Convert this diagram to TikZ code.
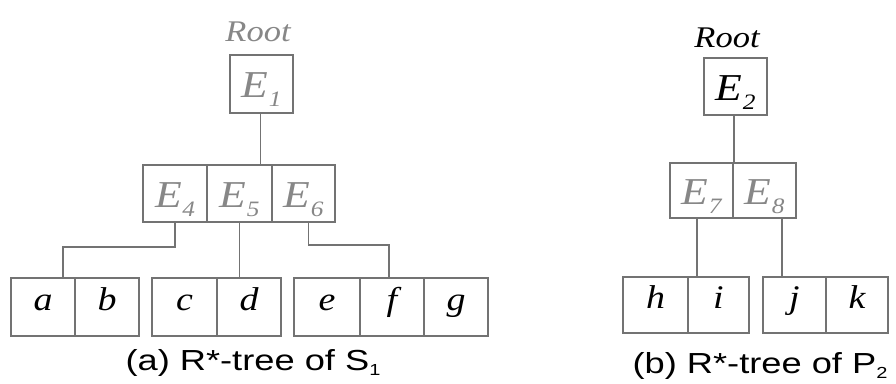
\documentclass[tikz,border=0pt]{standalone}
\usepackage{fontspec}
\usepackage{graphicx}
\setmainfont{Liberation Serif}
\setsansfont{Liberation Sans}
\usetikzlibrary{calc}
\definecolor{boxgray}{RGB}{115,115,115}
\definecolor{txtgray}{RGB}{135,135,135}
\newcommand\hstr[2][1.15]{\scalebox{#1}[1]{#2}}
\newcommand\Esub[1]{\hstr{\textit{E}\hspace{0.5pt}\raisebox{-9pt}{\fontsize{22}{22}\selectfont\itshape #1}}}
\begin{document}
\begin{tikzpicture}[x=1pt,y=-1pt,
  cell/.style={draw=boxgray, line width=1.9pt, inner sep=0pt, minimum height=57pt},
  ecell/.style={cell, font=\fontsize{38}{38}\selectfont, text height=27pt, text depth=0pt},
  leaf/.style={cell, font=\fontsize{33}{33}\selectfont\itshape, minimum height=58pt, text height=16pt, text depth=10pt},
  link/.style={draw=boxgray, line width=1.9pt},
  rootlbl/.style={font=\fontsize{30}{30}\selectfont\itshape, inner sep=0pt},
  caption/.style={font=\sffamily\fontsize{29}{29}\selectfont, inner sep=0pt, anchor=base}]
\useasboundingbox (0,0) rectangle (896,383);
% ---------- (a) ----------
\node[rootlbl, text=txtgray] (rootA) at (258,32) {\hstr{Root}};
\node[ecell, text=txtgray, minimum width=63pt, minimum height=58pt] (E1) at (261.5,84) {\Esub{1}};
\node[ecell, text=txtgray, minimum width=64pt] (E4) at (175,193.5) {\Esub{4}};
\node[ecell, text=txtgray, minimum width=65pt] (E5) at (239.5,193.5) {\Esub{5}};
\node[ecell, text=txtgray, minimum width=63pt] (E6) at (303.5,193.5) {\Esub{6}};
\node[leaf, minimum width=64pt] (a) at (43,307) {\hstr{a}};
\node[leaf, minimum width=64pt] (b) at (107,307) {\hstr{b}};
\node[leaf, minimum width=65pt] (c) at (184.5,307) {\hstr{c}};
\node[leaf, minimum width=64pt] (d) at (249,307) {\hstr{d}};
\node[leaf, minimum width=66pt] (e) at (327,307) {\hstr{e}};
\node[leaf, minimum width=64pt] (f) at (392,307) {\hstr{f}};
\node[leaf, minimum width=64pt] (g) at (456,307) {\hstr{g}};
\draw[link] ($(E1.south)+(-1,0)$) -- ($(E1.south |- E5.north)+(-1,0)$);
\draw[link] (E4.south) -- ++(0,24) -| ($(a.north)+(20,0)$);
\draw[link] (E5.south) -- (E5.south |- d.north);
\draw[link] ($(E6.south)+(5,0)$) -- ++(0,22) -| ($(f.north)+(-3,0)$);
\node[caption] (capA) at (253,370) {\hstr[1.25]{(a) R*-tree of S\raisebox{-5pt}{\fontsize{16}{16}\selectfont 1}}};
% ---------- (b) ----------
\node[rootlbl] (rootB) at (727,38) {\hstr{Root}};
\node[ecell, minimum width=63pt] (E2) at (735.5,86.5) {\Esub{2}};
\node[ecell, text=txtgray, minimum width=63pt, minimum height=55pt] (E7) at (701.5,190.5) {\Esub{7}};
\node[ecell, text=txtgray, minimum width=63pt, minimum height=55pt] (E8) at (764.5,190.5) {\Esub{8}};
\node[leaf, minimum width=65pt, minimum height=56pt] (h) at (655.5,305) {\hstr{h}};
\node[leaf, minimum width=61pt, minimum height=56pt] (i) at (718.5,305) {\hstr{i}};
\node[leaf, minimum width=63pt, minimum height=56pt] (j) at (794.5,305) {\hstr{j}};
\node[leaf, minimum width=62pt, minimum height=56pt] (k) at (857,305) {\hstr{k}};
\draw[link] ($(E2.south)+(-1.5,0)$) -- ($(E2.south |- E7.north)+(-1.5,0)$);
\draw[link] ($(E7.south)+(-4.5,0)$) -- ($(E7.south |- i.north)+(-4.5,0)$);
\draw[link] ($(E8.south)+(17.5,0)$) -- ($(E8.south |- j.north)+(17.5,0)$);
\node[caption] (capB) at (760,373) {\hstr[1.25]{(b) R*-tree of P\raisebox{-5pt}{\fontsize{16}{16}\selectfont 2}}};
\end{tikzpicture}
\end{document}
